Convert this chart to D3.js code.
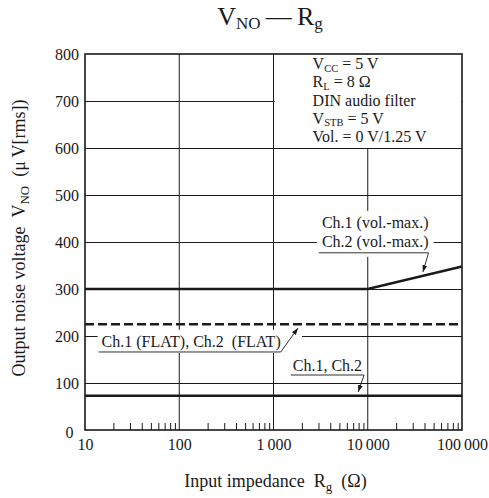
<!DOCTYPE html>
<html>
<head>
<meta charset="utf-8">
<script src="https://cdn.jsdelivr.net/npm/d3@7"></script>
<style>
  body { margin: 0; background: #fff; }
  svg { display: block; font-family: "Liberation Serif", "Times New Roman", serif; }
</style>
</head>
<body>
<svg id="chart" width="489" height="498"></svg>
<script>
// values
var rgTicks = [10, 100, 1000, 10000, 100000];
var rgTickLabels = ["10", "100", "1\u2009000", "10\u2009000", "100\u2009000"];
var vnoTicks = [0, 100, 200, 300, 400, 500, 600, 700, 800];

var volMaxRg = [10, 10000, 100000];
var volMaxVno = [300, 300, 348];
var flatRg = [10, 100000];
var flatVno = [225, 225];
var normalRg = [10, 100000];
var normalVno = [73, 73];

var conditions = ["V_{CC} = 5 V", "R_{L} = 8 \u03A9", "DIN audio filter", "V_{STB} = 5 V", "Vol. = 0 V/1.25 V"];
var volMaxLabels = ["Ch.1 (vol.-max.)", "Ch.2 (vol.-max.)"];
var flatLabel = "Ch.1 (FLAT), Ch.2\u2002(FLAT)";
var normalLabel = "Ch.1, Ch.2";

var svg = d3.select("#chart");
var ink = "#1a1a1a";

var x = d3.scaleLog().domain([10, 100000]).range([85, 462]);
var y = d3.scaleLinear().domain([0, 800]).range([430, 54]);

// text with _{...} subscripts
function rich(sel, str, subSize, subDy) {
    var parts = str.split(/_\{([^}]*)\}/);
    var off = 0;
    parts.forEach(function (p, i) {
        if (p === "") return;
        var isSub = i % 2 === 1;
        var target = isSub ? subDy : 0;
        var t = sel.append("tspan").text(p).attr("dy", target - off);
        if (isSub) t.attr("font-size", subSize);
        off = target;
    });
    return sel;
}

var defs = svg.append("defs");
defs.append("marker")
    .attr("id", "arr")
    .attr("viewBox", "0 0 10 10")
    .attr("refX", 10).attr("refY", 5)
    .attr("markerUnits", "userSpaceOnUse")
    .attr("markerWidth", 7).attr("markerHeight", 7)
    .attr("orient", "auto")
    .append("path").attr("d", "M0,1.5L10,5L0,8.5Z").attr("fill", ink);

//=================== GRID ====================
var grid = svg.append("g").attr("stroke", ink).attr("stroke-width", 1);
grid.selectAll("line.h").data(vnoTicks.slice(1, -1)).join("line")
    .attr("class", "h")
    .attr("x1", x(10)).attr("x2", x(100000))
    .attr("y1", function (d) { return y(d) + 0.5; })
    .attr("y2", function (d) { return y(d) + 0.5; });
grid.selectAll("line.v").data(rgTicks.slice(1, -1)).join("line")
    .attr("class", "v")
    .attr("y1", y(0)).attr("y2", y(800))
    .attr("x1", function (d) { return x(d); })
    .attr("x2", function (d) { return x(d); });

// minor ticks 2..9 of each decade, pointing up into the plot
var minor = [];
rgTicks.slice(0, -1).forEach(function (dec) {
    for (var k = 2; k <= 9; k++) minor.push(dec * k);
});
var minorAxis = svg.append("g")
    .attr("transform", "translate(0," + y(0) + ")")
    .call(d3.axisBottom(x).tickValues(minor).tickSize(-7).tickFormat(""));
minorAxis.select(".domain").remove();
minorAxis.selectAll("line").attr("stroke", ink);

// white box for the test conditions
svg.append("rect")
    .attr("x", x(1000) + 1).attr("y", y(800) + 1)
    .attr("width", x(100000) - x(1000) - 2).attr("height", y(600) - y(800) - 1)
    .attr("fill", "#fff");

//=================== DATA LINES ====================
var line = d3.line()
    .x(function (d) { return x(d[0]); })
    .y(function (d) { return y(d[1]); });

svg.append("path").datum(d3.zip(volMaxRg, volMaxVno))
    .attr("d", line).attr("fill", "none").attr("stroke", ink).attr("stroke-width", 2.5);
svg.append("path").datum(d3.zip(flatRg, flatVno))
    .attr("d", line).attr("fill", "none").attr("stroke", ink).attr("stroke-width", 2.5)
    .attr("stroke-dasharray", "9,4");
svg.append("path").datum(d3.zip(normalRg, normalVno))
    .attr("d", line).attr("fill", "none").attr("stroke", ink).attr("stroke-width", 2.5);

//=================== ANNOTATIONS ====================
function leader(x1, y1, x2, y2) {
    svg.append("line")
        .attr("x1", x1).attr("y1", y1).attr("x2", x2).attr("y2", y2)
        .attr("stroke", ink).attr("stroke-width", 0.9)
        .attr("marker-end", "url(#arr)");
}
function underline(x1, x2, yy) {
    svg.append("line")
        .attr("x1", x1).attr("x2", x2).attr("y1", yy).attr("y2", yy)
        .attr("stroke", ink).attr("stroke-width", 0.9);
}

// vol.-max. label
var vmBg = svg.append("rect").attr("fill", "#fff");
var vmText = svg.append("g").attr("font-size", 16).attr("fill", ink).attr("text-anchor", "middle");
vmText.selectAll("text").data(volMaxLabels).join("text")
    .attr("x", x(12000))
    .attr("y", function (d, i) { return i === 0 ? y(430) : y(389); })
    .text(function (d) { return d; });
var vb = vmText.node().getBBox();
var vmUl = y(377);
vmBg.attr("x", vb.x - 5).attr("y", vb.y - 3).attr("width", vb.width + 10).attr("height", vmUl + 4 - (vb.y - 3));
underline(vb.x - 3, vb.x + vb.width, vmUl);
leader(vb.x + vb.width, vmUl, x(38500), y(336));

// FLAT label
var flBg = svg.append("rect").attr("fill", "#fff");
var flText = svg.append("text").attr("font-size", 16).attr("fill", ink)
    .attr("x", x(15)).attr("y", y(177)).text(flatLabel);
var fb = flText.node().getBBox();
var flUl = y(166);
var flTip = [x(1820), y(217)];
flBg.attr("x", fb.x - 4).attr("y", fb.y - 3).attr("width", flTip[0] + 4 - (fb.x - 4)).attr("height", flUl + 1 - (fb.y - 3));
underline(fb.x - 3, fb.x + fb.width, flUl);
leader(fb.x + fb.width, flUl, flTip[0], flTip[1]);

// normal label
var nmText = svg.append("text").attr("font-size", 16).attr("fill", ink)
    .attr("x", x(1600)).attr("y", y(125)).text(normalLabel);
var nb = nmText.node().getBBox();
var nmUl = y(117);
underline(nb.x - 2, nb.x + nb.width + 2, nmUl);
leader(nb.x + nb.width + 2, nmUl, x(7900), y(81));

// test conditions
var cond = svg.append("g").attr("font-size", 16).attr("fill", ink);
conditions.forEach(function (c, i) {
    var t = cond.append("text").attr("x", x(2600)).attr("y", y(768) + i * 18.3);
    rich(t, c, 10.5, 2.5);
});

//=================== AXES ====================
var yAxis = svg.append("g")
    .attr("transform", "translate(" + x(10) + ",0)")
    .call(d3.axisLeft(y).tickValues(vnoTicks).tickSize(0).tickPadding(6));
yAxis.select(".domain").remove();
yAxis.attr("font-family", null);
yAxis.selectAll("text").attr("font-size", 16).attr("fill", ink);
yAxis.selectAll(".tick").filter(function (d) { return d === 0; })
    .select("text").attr("dx", "-0.35em").attr("dy", "0.45em");

var xAxis = svg.append("g")
    .attr("transform", "translate(0," + y(0) + ")")
    .call(d3.axisBottom(x).tickValues(rgTicks).tickSize(0).tickPadding(9)
        .tickFormat(function (d, i) { return rgTickLabels[i]; }));
xAxis.select(".domain").remove();
xAxis.attr("font-family", null);
xAxis.selectAll("text").attr("font-size", 16).attr("fill", ink);

// frame
svg.append("rect")
    .attr("x", x(10)).attr("y", y(800))
    .attr("width", x(100000) - x(10)).attr("height", y(0) - y(800))
    .attr("fill", "none").attr("stroke", ink).attr("stroke-width", 1.6);

//=================== TITLES ====================
var title = svg.append("text").attr("x", 270).attr("y", 25)
    .attr("text-anchor", "middle").attr("font-size", 26).attr("fill", ink);
rich(title, "V_{NO}\u2009\u2014\u2009R_{g}", 17, 4);

var xTitle = svg.append("text").attr("x", (x.range()[0] + x.range()[1]) / 2 + 2).attr("y", 487)
    .attr("text-anchor", "middle").attr("font-size", 18).attr("fill", ink);
rich(xTitle, "Input impedance\u2002R_{g}\u2002(\u03A9)", 13, 4);

var yTitle = svg.append("text")
    .attr("transform", "translate(25,238) rotate(-90)")
    .attr("text-anchor", "middle").attr("font-size", 18).attr("fill", ink);
rich(yTitle, "Output noise voltage\u2002V_{NO}\u2002(\u03BC\u2009V[rms])", 13, 4);
</script>
</body>
</html>
